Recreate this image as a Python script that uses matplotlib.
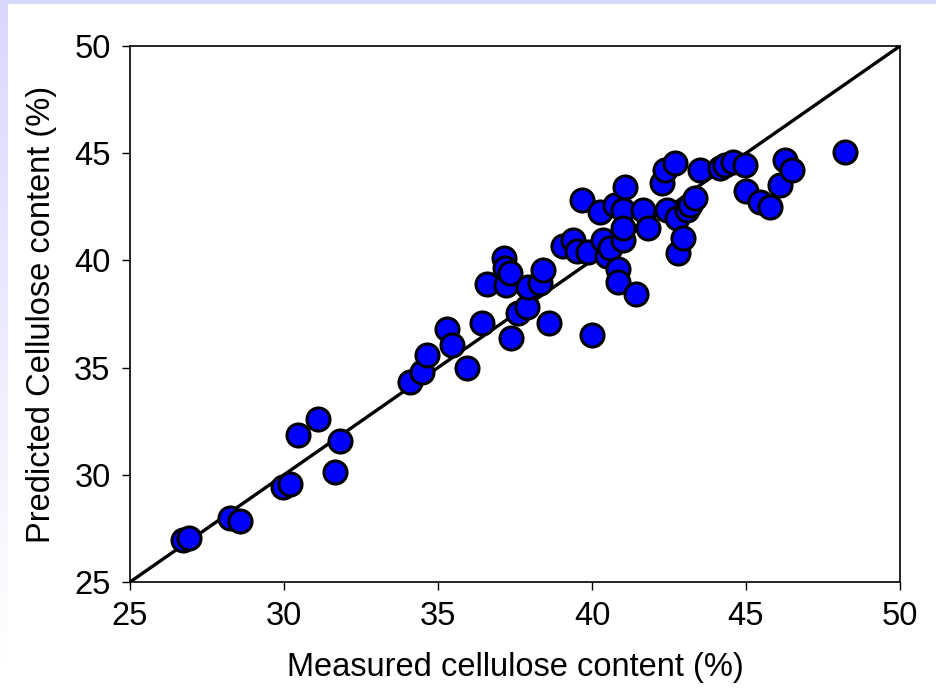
import numpy as np
import matplotlib.pyplot as plt
from matplotlib.patches import Rectangle
from matplotlib.colors import LinearSegmentedColormap

plt.rcParams['font.family'] = ['Liberation Sans', 'DejaVu Sans']

# measured vs predicted cellulose content (%)
measured = [26.72, 26.90, 28.25, 28.57, 29.97, 30.19, 30.45, 31.10, 31.66, 31.82,
            34.09, 34.48, 34.64, 35.29, 35.45, 35.94, 36.43, 36.60, 37.14, 37.18,
            37.20, 37.34, 37.37, 37.60, 37.88, 37.92, 38.31, 38.41, 38.60, 39.06,
            39.39, 39.50, 39.67, 39.87, 40.00, 40.26, 40.36, 40.50, 40.58, 40.75,
            40.85, 40.85, 41.00, 41.07, 41.00, 41.00, 41.43, 41.66, 41.82, 42.27,
            42.37, 42.69, 42.43, 42.76, 42.79, 42.95, 43.08, 43.18, 43.34, 43.51,
            44.16, 44.32, 44.58, 44.97, 45.00, 45.45, 45.78, 46.10, 46.27, 46.49,
            48.21]
predicted = [26.96, 27.05, 27.99, 27.85, 29.43, 29.57, 31.86, 32.60, 30.13, 31.58,
             34.33, 34.79, 35.59, 36.80, 36.05, 34.98, 37.08, 38.90, 40.11, 39.64,
             38.85, 39.40, 36.38, 37.55, 37.84, 38.76, 38.94, 39.55, 37.08, 40.65,
             40.95, 40.45, 42.80, 40.40, 36.52, 42.26, 40.95, 40.20, 40.60, 42.60,
             39.60, 39.00, 42.35, 43.43, 40.95, 41.50, 38.45, 42.35, 41.50, 43.60,
             44.20, 44.55, 42.35, 41.98, 40.35, 41.05, 42.35, 42.58, 42.90, 44.22,
             44.31, 44.45, 44.60, 44.45, 43.25, 42.72, 42.49, 43.52, 44.68, 44.22,
             45.06]
ticks = [25, 30, 35, 40, 45, 50]

fig = plt.figure(figsize=(9.37, 7.0), dpi=100)

# lavender frame: band along the top, fading band down the left side
bg = fig.add_axes([0, 0, 1, 1], zorder=-5)
bg.set_xlim(0, 937)
bg.set_ylim(700, 0)
bg.axis('off')
bg.add_patch(Rectangle((0, 0), 937, 4, color='#d8d8fc', lw=0))
fade = np.linspace(1, 0, 256).reshape(-1, 1)
lav = LinearSegmentedColormap.from_list('lav', ['#ffffff', '#d8d8fc'])
bg.imshow(fade, extent=(0, 8, 660, 0), cmap=lav, aspect='auto', vmin=0, vmax=1)

ax = fig.add_axes([130 / 937, 1 - 582 / 700, 770 / 937, 536 / 700])
ax.plot([25, 50], [25, 50], color='black', lw=2.4, zorder=2)
ax.scatter(measured, predicted, s=275, c='#0000ff', edgecolors='black',
           linewidths=2.2, zorder=3, clip_on=False)

ax.set_xlim(25, 50)
ax.set_ylim(25, 50)
ax.set_xticks(ticks)
ax.set_yticks(ticks)
ax.tick_params(direction='out', length=6, width=1, labelsize=23.5, pad=8)
for s in ax.spines.values():
    s.set_linewidth(1.2)
ax.set_xlabel('Measured cellulose content (%)', fontsize=23.5, labelpad=14)
ax.set_ylabel('Predicted Cellulose content (%)', fontsize=23.5, labelpad=12)

fig.savefig('out.png', dpi=100)
